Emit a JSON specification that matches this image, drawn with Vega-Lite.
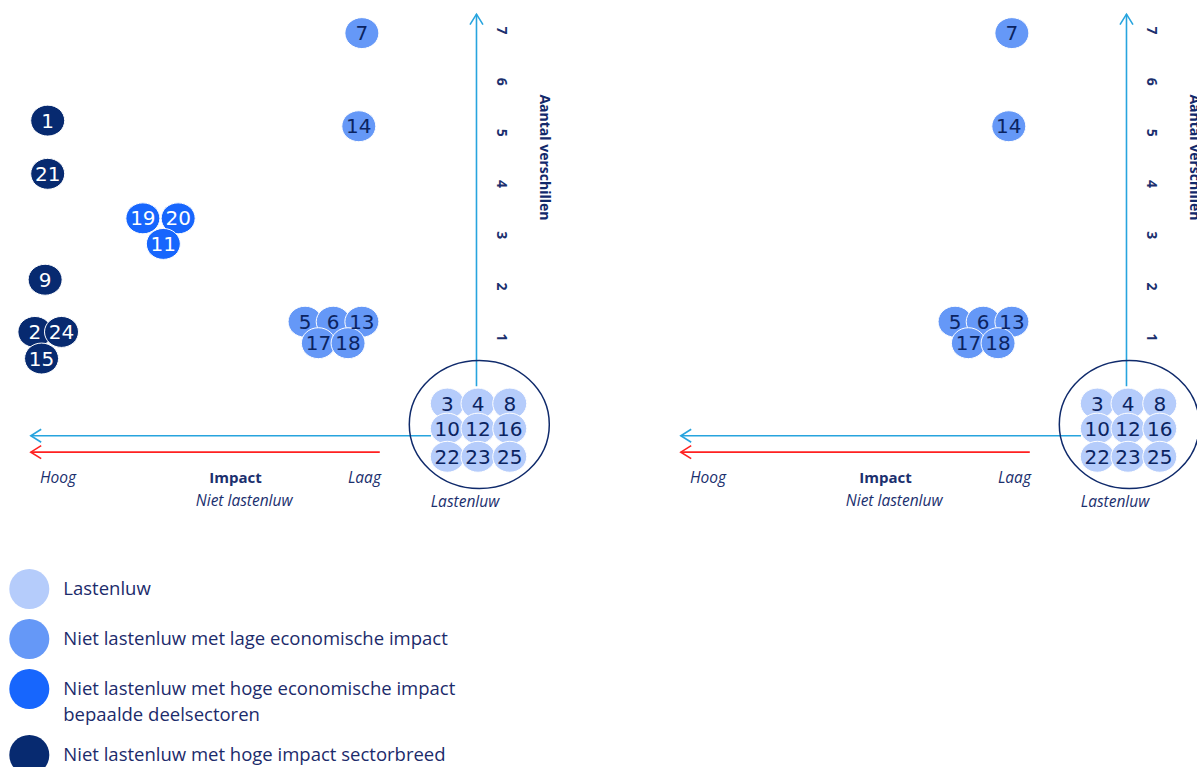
{
  "$schema": "https://vega.github.io/schema/vega-lite/v6.json",
  "background": "white",
  "padding": 0,
  "spacing": 0,
  "bounds": "flush",
  "config": {"view": {"stroke": null}, "style": {"guide-label": {"lineHeight": 26}}},
  "resolve": {"scale": {"fill": "independent"}, "legend": {"fill": "independent"}},
  "datasets": {
    "points": [
      {"id": "7", "cat": "Niet lastenluw met lage economische impact", "x": -2.25, "y": 6.94, "rechts": true},
      {"id": "14", "cat": "Niet lastenluw met lage economische impact", "x": -2.31, "y": 5.12, "rechts": true},
      {"id": "1", "cat": "Niet lastenluw met hoge impact sectorbreed", "x": -8.39, "y": 5.23, "rechts": false},
      {"id": "21", "cat": "Niet lastenluw met hoge impact sectorbreed", "x": -8.39, "y": 4.19, "rechts": false},
      {"id": "19", "cat": "Niet lastenluw met hoge economische impact bepaalde deelsectoren", "x": -6.53, "y": 3.32, "rechts": false},
      {"id": "20", "cat": "Niet lastenluw met hoge economische impact bepaalde deelsectoren", "x": -5.84, "y": 3.32, "rechts": false},
      {"id": "11", "cat": "Niet lastenluw met hoge economische impact bepaalde deelsectoren", "x": -6.13, "y": 2.82, "rechts": false},
      {"id": "9", "cat": "Niet lastenluw met hoge impact sectorbreed", "x": -8.44, "y": 2.12, "rechts": false},
      {"id": "2", "cat": "Niet lastenluw met hoge impact sectorbreed", "x": -8.64, "y": 1.10, "rechts": false},
      {"id": "24", "cat": "Niet lastenluw met hoge impact sectorbreed", "x": -8.12, "y": 1.10, "rechts": false},
      {"id": "15", "cat": "Niet lastenluw met hoge impact sectorbreed", "x": -8.51, "y": 0.58, "rechts": false},
      {"id": "5", "cat": "Niet lastenluw met lage economische impact", "x": -3.36, "y": 1.30, "rechts": true},
      {"id": "6", "cat": "Niet lastenluw met lage economische impact", "x": -2.81, "y": 1.30, "rechts": true},
      {"id": "13", "cat": "Niet lastenluw met lage economische impact", "x": -2.25, "y": 1.30, "rechts": true},
      {"id": "17", "cat": "Niet lastenluw met lage economische impact", "x": -3.10, "y": 0.88, "rechts": true},
      {"id": "18", "cat": "Niet lastenluw met lage economische impact", "x": -2.52, "y": 0.88, "rechts": true},
      {"id": "3", "cat": "Lastenluw", "x": -0.58, "y": -0.30, "rechts": true},
      {"id": "4", "cat": "Lastenluw", "x": 0.02, "y": -0.30, "rechts": true},
      {"id": "8", "cat": "Lastenluw", "x": 0.64, "y": -0.30, "rechts": true},
      {"id": "10", "cat": "Lastenluw", "x": -0.58, "y": -0.79, "rechts": true},
      {"id": "12", "cat": "Lastenluw", "x": 0.02, "y": -0.79, "rechts": true},
      {"id": "16", "cat": "Lastenluw", "x": 0.64, "y": -0.79, "rechts": true},
      {"id": "22", "cat": "Lastenluw", "x": -0.58, "y": -1.34, "rechts": true},
      {"id": "23", "cat": "Lastenluw", "x": 0.02, "y": -1.34, "rechts": true},
      {"id": "25", "cat": "Lastenluw", "x": 0.64, "y": -1.34, "rechts": true}
    ],
    "arrows": [
      {"lijn": "verschillen", "dir": "up", "x": -0.01, "y": 7.31, "x2": -0.01, "y2": 0.04},
      {"lijn": "impact", "dir": "left", "x": -8.72, "y": -0.93, "x2": -0.90, "y2": -0.93},
      {"lijn": "rood", "dir": "left", "x": -8.72, "y": -1.25, "x2": -1.90, "y2": -1.25}
    ],
    "ring": [{"x": 0.045, "y": -0.71}],
    "labels": [
      {"text": "Hoog", "soort": "schaal", "x": -8.19, "y": -1.76},
      {"text": "Laag", "soort": "schaal", "x": -2.20, "y": -1.76},
      {"text": "Niet lastenluw", "soort": "schaal", "x": -4.55, "y": -2.20},
      {"text": "Lastenluw", "soort": "schaal", "x": -0.235, "y": -2.22},
      {"text": "Impact", "soort": "as", "x": -4.72, "y": -1.76},
      {"text": "Aantal verschillen", "soort": "titel", "x": 1.30, "y": 4.51}
    ]
  },
  "hconcat": [
    {
      "width": 650,
      "height": 530,
      "encoding": {
        "x": {"field": "x", "type": "quantitative", "scale": {"domain": [-9.322, 3.381], "nice": false, "zero": false}, "axis": null},
        "y": {"field": "y", "type": "quantitative", "scale": {"domain": [-2.771, 7.587], "nice": false, "zero": false},
          "axis": {"orient": "right", "offset": -150, "values": [1, 2, 3, 4, 5, 6, 7], "domain": false, "ticks": false, "grid": false, "labelAngle": 90, "labelAlign": "center", "labelBaseline": "middle", "labelPadding": 0, "labelFont": "Open Sans", "labelFontSize": 14, "labelFontWeight": "bold", "labelColor": "#1b2f6e", "title": null, "labelFlush": false, "labelOverlap": false}}
      },
      "layer": [
        {"data": {"name": "arrows"}, "mark": {"type": "rule", "strokeWidth": 1.6},
          "encoding": {"x2": {"field": "x2"}, "y2": {"field": "y2"}, "color": {"condition": {"test": "datum.lijn == 'rood'", "value": "#ff2020"}, "value": "#27a4de"}}},
        {"data": {"name": "arrows"}, "transform": [{"filter": "datum.dir == 'up'"}],
          "mark": {"type": "point", "shape": "M -1 1.6 L 0 0 L 1 1.6", "size": 169, "filled": false, "strokeWidth": 1.6, "color": "#27a4de", "opacity": 1}},
        {"data": {"name": "arrows"}, "transform": [{"filter": "datum.dir == 'left'"}],
          "mark": {"type": "point", "shape": "M -1 1.6 L 0 0 L 1 1.6", "size": 169, "filled": false, "strokeWidth": 1.6, "angle": 270, "opacity": 1},
          "encoding": {"color": {"condition": {"test": "datum.lijn == 'rood'", "value": "#ff2020"}, "value": "#27a4de"}}},
        {"data": {"name": "ring"},
          "mark": {"type": "point", "shape": "M -1 0 A 1 0.914 0 1 1 1 0 A 1 0.914 0 1 1 -1 0 Z", "size": 19600, "filled": false, "color": "#0f2a6b", "strokeWidth": 1.5, "opacity": 1}},
        {"data": {"name": "points"},
          "mark": {"type": "point", "shape": "M -1 0 A 1 0.91 0 1 1 1 0 A 1 0.91 0 1 1 -1 0 Z", "size": 1156, "filled": true, "stroke": "white", "strokeWidth": 1, "opacity": 1},
          "encoding": {"fill": {"field": "cat", "type": "nominal",
            "scale": {"domain": ["Lastenluw", "Niet lastenluw met lage economische impact", "Niet lastenluw met hoge economische impact bepaalde deelsectoren", "Niet lastenluw met hoge impact sectorbreed"], "range": ["#b5ccfb", "#6598f7", "#1766fd", "#072a70"]},
            "legend": {"orient": "none", "legendX": 9.3, "legendY": 569, "direction": "vertical", "title": null, "symbolType": "circle", "symbolSize": 1600, "symbolStrokeWidth": 0, "symbolOpacity": 1, "labelFont": "Open Sans", "labelFontSize": 18.5, "labelColor": "#1c2b6b", "labelOffset": 14, "rowPadding": 10, "labelLimit": 800, "padding": 0,
              "labelExpr": "datum.label == 'Niet lastenluw met hoge economische impact bepaalde deelsectoren' ? ['Niet lastenluw met hoge economische impact', 'bepaalde deelsectoren'] : datum.label"}}}},
        {"data": {"name": "points"},
          "mark": {"type": "text", "font": "DejaVu Sans", "fontSize": 20, "align": "center", "baseline": "middle", "dy": 1},
          "encoding": {"text": {"field": "id", "type": "nominal"},
            "color": {"condition": {"test": "datum.cat == 'Niet lastenluw met hoge economische impact bepaalde deelsectoren' || datum.cat == 'Niet lastenluw met hoge impact sectorbreed'", "value": "white"}, "value": "#0b2461"}}},
        {"data": {"name": "labels"}, "transform": [{"filter": "datum.soort == 'schaal'"}],
          "mark": {"type": "text", "font": "Open Sans", "fontSize": 15.5, "fontStyle": "italic", "color": "#1b2f6e", "align": "center", "baseline": "middle"},
          "encoding": {"text": {"field": "text", "type": "nominal"}}},
        {"data": {"name": "labels"}, "transform": [{"filter": "datum.soort == 'as'"}],
          "mark": {"type": "text", "font": "Open Sans", "fontSize": 15, "fontWeight": "bold", "color": "#1b2f6e", "align": "center", "baseline": "middle"},
          "encoding": {"text": {"field": "text", "type": "nominal"}}},
        {"data": {"name": "labels"}, "transform": [{"filter": "datum.soort == 'titel'"}],
          "mark": {"type": "text", "font": "Open Sans", "fontSize": 14, "fontWeight": "bold", "color": "#12296b", "align": "center", "baseline": "middle", "angle": 90, "clip": true},
          "encoding": {"text": {"field": "text", "type": "nominal"}}}
      ]
    },
    {
      "width": 547,
      "height": 530,
      "encoding": {
        "x": {"field": "x", "type": "quantitative", "scale": {"domain": [-9.322, 1.368], "nice": false, "zero": false}, "axis": null},
        "y": {"field": "y", "type": "quantitative", "scale": {"domain": [-2.771, 7.587], "nice": false, "zero": false},
          "axis": {"orient": "right", "offset": -47, "values": [1, 2, 3, 4, 5, 6, 7], "domain": false, "ticks": false, "grid": false, "labelAngle": 90, "labelAlign": "center", "labelBaseline": "middle", "labelPadding": 0, "labelFont": "Open Sans", "labelFontSize": 14, "labelFontWeight": "bold", "labelColor": "#1b2f6e", "title": null, "labelFlush": false, "labelOverlap": false}}
      },
      "layer": [
        {"data": {"name": "arrows"}, "mark": {"type": "rule", "strokeWidth": 1.6},
          "encoding": {"x2": {"field": "x2"}, "y2": {"field": "y2"}, "color": {"condition": {"test": "datum.lijn == 'rood'", "value": "#ff2020"}, "value": "#27a4de"}}},
        {"data": {"name": "arrows"}, "transform": [{"filter": "datum.dir == 'up'"}],
          "mark": {"type": "point", "shape": "M -1 1.6 L 0 0 L 1 1.6", "size": 169, "filled": false, "strokeWidth": 1.6, "color": "#27a4de", "opacity": 1}},
        {"data": {"name": "arrows"}, "transform": [{"filter": "datum.dir == 'left'"}],
          "mark": {"type": "point", "shape": "M -1 1.6 L 0 0 L 1 1.6", "size": 169, "filled": false, "strokeWidth": 1.6, "angle": 270, "opacity": 1},
          "encoding": {"color": {"condition": {"test": "datum.lijn == 'rood'", "value": "#ff2020"}, "value": "#27a4de"}}},
        {"data": {"name": "ring"},
          "mark": {"type": "point", "shape": "M -1 0 A 1 0.914 0 1 1 1 0 A 1 0.914 0 1 1 -1 0 Z", "size": 19600, "filled": false, "color": "#0f2a6b", "strokeWidth": 1.5, "opacity": 1}},
        {"data": {"name": "points"}, "transform": [{"filter": "datum.rechts"}],
          "mark": {"type": "point", "shape": "M -1 0 A 1 0.91 0 1 1 1 0 A 1 0.91 0 1 1 -1 0 Z", "size": 1156, "filled": true, "stroke": "white", "strokeWidth": 1, "opacity": 1},
          "encoding": {"fill": {"field": "cat", "type": "nominal",
            "scale": {"domain": ["Lastenluw", "Niet lastenluw met lage economische impact", "Niet lastenluw met hoge economische impact bepaalde deelsectoren", "Niet lastenluw met hoge impact sectorbreed"], "range": ["#b5ccfb", "#6598f7", "#1766fd", "#072a70"]},
            "legend": null}}},
        {"data": {"name": "points"}, "transform": [{"filter": "datum.rechts"}],
          "mark": {"type": "text", "font": "DejaVu Sans", "fontSize": 20, "align": "center", "baseline": "middle", "dy": 1},
          "encoding": {"text": {"field": "id", "type": "nominal"},
            "color": {"condition": {"test": "datum.cat == 'Niet lastenluw met hoge economische impact bepaalde deelsectoren' || datum.cat == 'Niet lastenluw met hoge impact sectorbreed'", "value": "white"}, "value": "#0b2461"}}},
        {"data": {"name": "labels"}, "transform": [{"filter": "datum.soort == 'schaal'"}],
          "mark": {"type": "text", "font": "Open Sans", "fontSize": 15.5, "fontStyle": "italic", "color": "#1b2f6e", "align": "center", "baseline": "middle"},
          "encoding": {"text": {"field": "text", "type": "nominal"}}},
        {"data": {"name": "labels"}, "transform": [{"filter": "datum.soort == 'as'"}],
          "mark": {"type": "text", "font": "Open Sans", "fontSize": 15, "fontWeight": "bold", "color": "#1b2f6e", "align": "center", "baseline": "middle"},
          "encoding": {"text": {"field": "text", "type": "nominal"}}},
        {"data": {"name": "labels"}, "transform": [{"filter": "datum.soort == 'titel'"}],
          "mark": {"type": "text", "font": "Open Sans", "fontSize": 14, "fontWeight": "bold", "color": "#12296b", "align": "center", "baseline": "middle", "angle": 90, "clip": true},
          "encoding": {"text": {"field": "text", "type": "nominal"}}}
      ]
    }
  ]
}
